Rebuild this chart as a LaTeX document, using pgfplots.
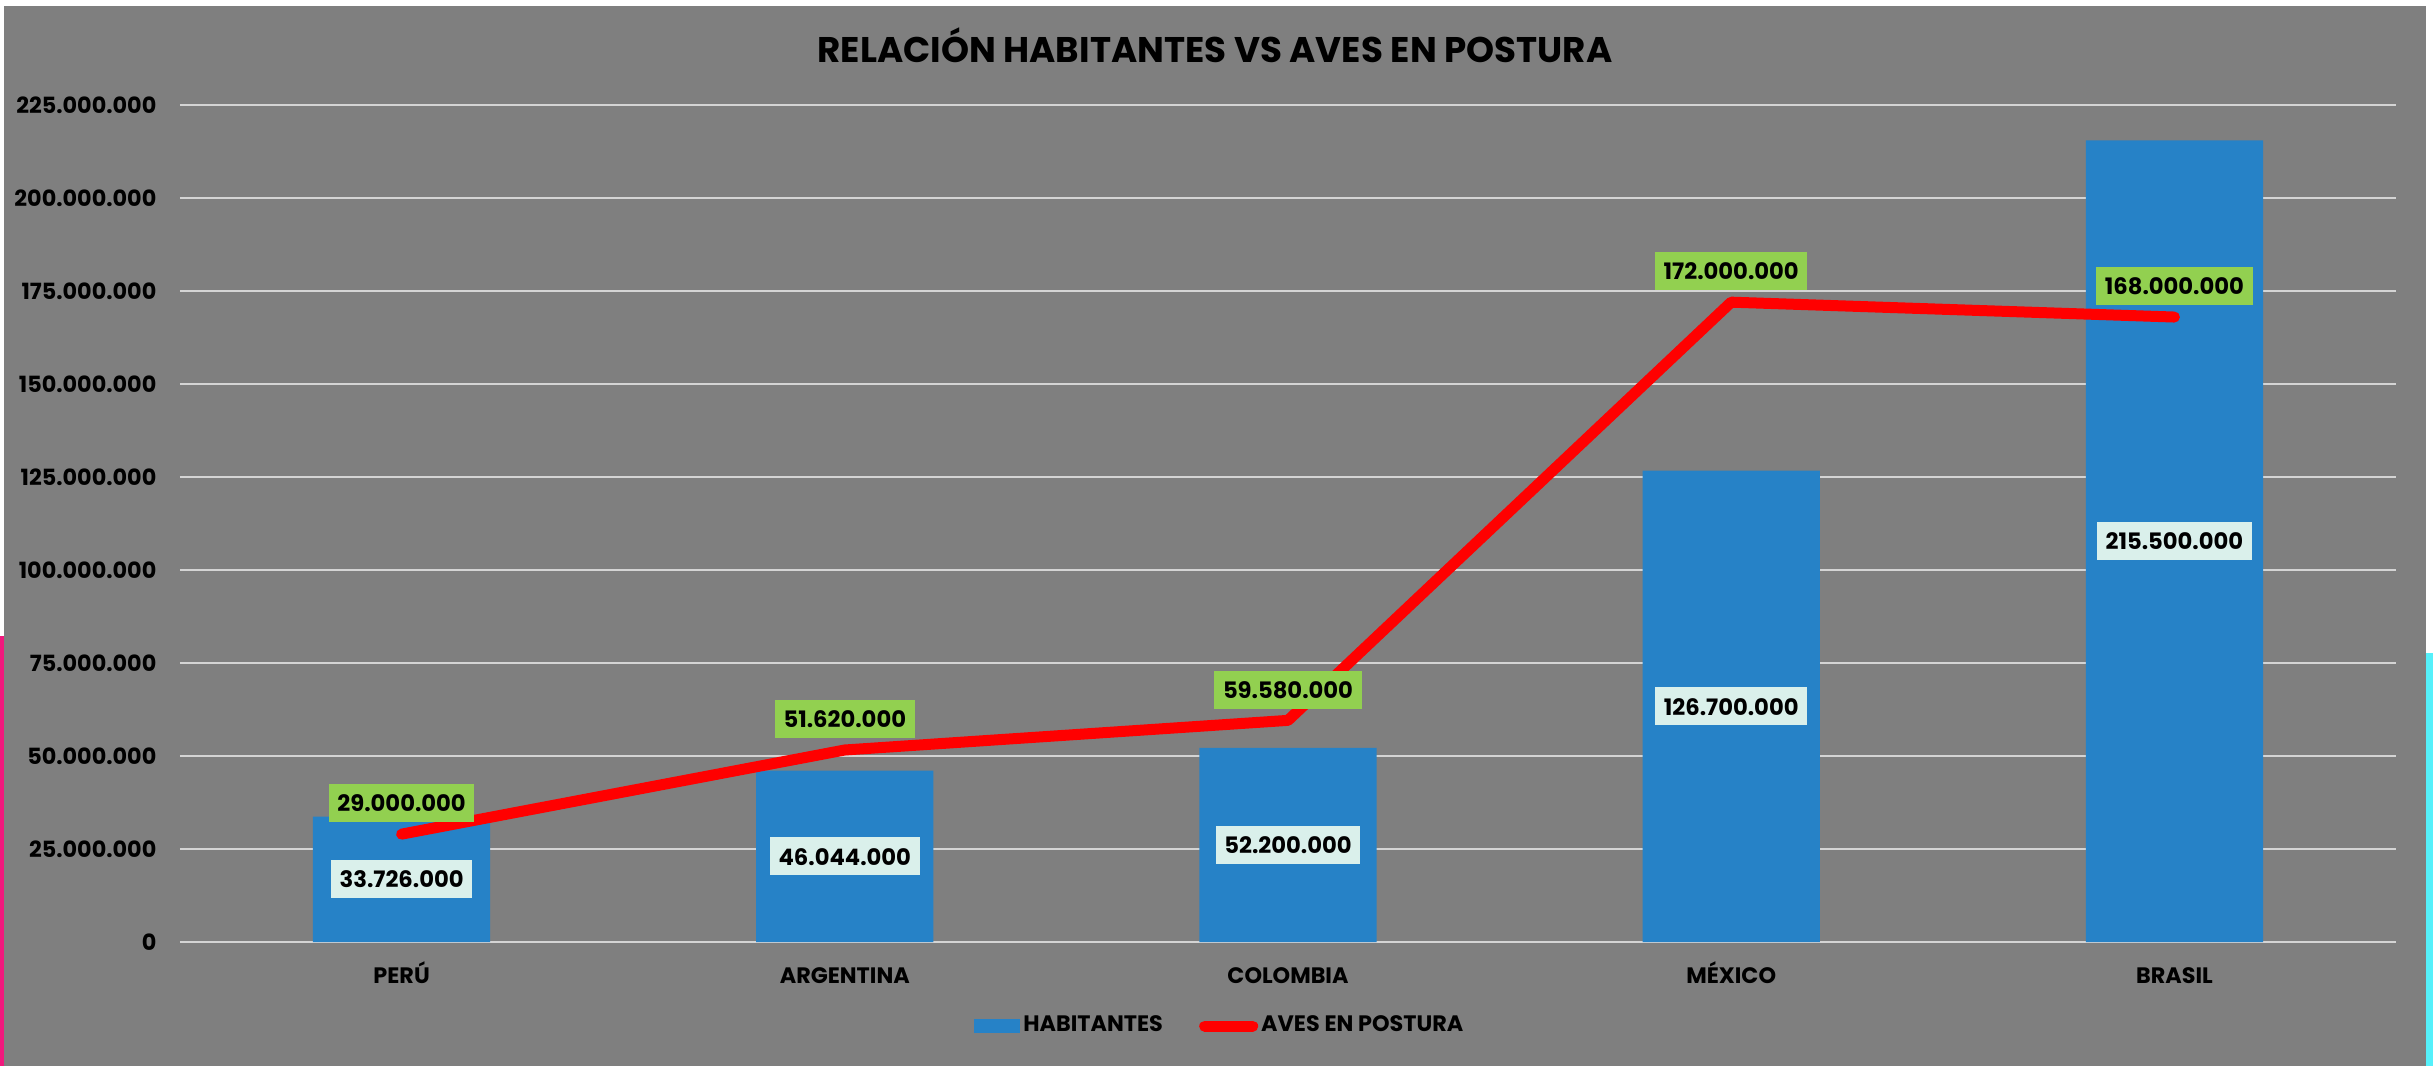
\documentclass[border=0pt]{standalone}
\usepackage{fontspec}
\setmainfont{Poppins}
\usepackage{pgfplots}
\pgfplotsset{compat=1.18}
\definecolor{bggray}{HTML}{7F7F7F}
\definecolor{barblue}{HTML}{2682C7}
\definecolor{labgreen}{HTML}{92D050}
\definecolor{labwhite}{HTML}{DAF0EB}
\definecolor{gridgray}{HTML}{D4D4D4}
\definecolor{pinkedge}{HTML}{F0197D}
\definecolor{cyanedge}{HTML}{55F0FA}
\newcommand{\tickfont}{\bfseries\fontsize{6.7}{8}\selectfont}
\newcommand{\labfont}{\bfseries\fontsize{6.8}{8}\selectfont}
\begin{document}
\begin{tikzpicture}
\useasboundingbox (0,0) rectangle (729.9pt,319.8pt);
\fill[white] (0,0) rectangle (729.9pt,319.8pt);
\fill[pinkedge] (0,0) rectangle (1.5pt,129pt);
\fill[cyanedge] (727pt,0) rectangle (729.9pt,124pt);
\fill[bggray] (1.2pt,0) rectangle (727.8pt,318pt);
\node[anchor=base, inner sep=0pt, font=\bfseries\fontsize{10.7}{13}\selectfont] at (364.5pt,301pt) {RELACIÓN HABITANTES VS AVES EN POSTURA};
\begin{axis}[
  at={(54pt,37.2pt)}, anchor=south west,
  scale only axis, width=664.8pt, height=251.1pt,
  xmin=-0.5, xmax=4.5, ymin=0, ymax=225000000,
  axis line style={draw=none},
  major tick length=0pt,
  xtick={0,1,2,3,4},
  xticklabels={PERÚ,ARGENTINA,COLOMBIA,MÉXICO,BRASIL},
  ytick={0,25000000,50000000,75000000,100000000,125000000,150000000,175000000,200000000,225000000},
  yticklabels={0,25.000.000,50.000.000,75.000.000,100.000.000,125.000.000,150.000.000,175.000.000,200.000.000,225.000.000},
  scaled y ticks=false,
  ymajorgrids, major grid style={draw=gridgray, line width=0.75pt},
  tick label style={font=\tickfont, text=black},
  yticklabel style={anchor=east, inner sep=0pt, xshift=-6.9pt},
  xticklabel style={anchor=base, inner sep=0pt, yshift=-12.3pt},
  legend style={at={(axis description cs:0.4693,-0.1004)}, anchor=center,
    draw=none, fill=none, font=\tickfont, text=black, legend columns=2,
    /tikz/every even column/.append style={column sep=10pt},
    nodes={inner sep=0.9pt}},
  legend cell align=left,
]
\addplot[ybar, bar width=0.4, fill=barblue, draw=none,
  legend image code/.code={\fill[barblue] (0pt,-2.1pt) rectangle (14pt,2.1pt);}]
  coordinates {(0,33726000) (1,46044000) (2,52200000) (3,126700000) (4,215500000)};
\addlegendentry{HABITANTES}
\addplot[draw=none, mark=none, forget plot, point meta=explicit symbolic,
  nodes near coords,
  nodes near coords style={anchor=center, fill=labwhite, text=black, font=\labfont,
    inner xsep=2.6pt, inner ysep=3.1pt, text height=5.2pt, text depth=0pt}]
  coordinates {(0,16863000)[33.726.000] (1,23022000)[46.044.000] (2,26100000)[52.200.000] (3,63350000)[126.700.000] (4,107750000)[215.500.000]};
\addplot[red, line width=3.3pt, line cap=round, line join=round, mark=none,
  point meta=explicit symbolic, nodes near coords,
  nodes near coords style={anchor=south, yshift=1.9pt, fill=labgreen, text=black, font=\labfont,
    inner xsep=2.6pt, inner ysep=3.1pt, text height=5.2pt, text depth=0pt},
  legend image code/.code={\draw[red, line width=3.3pt, line cap=round] (1.6pt,0pt) -- (16pt,0pt);}]
  coordinates {(0,29000000)[29.000.000] (1,51620000)[51.620.000] (2,59580000)[59.580.000] (3,172000000)[172.000.000] (4,168000000)[168.000.000]};
\addlegendentry{AVES EN POSTURA}
\end{axis}
\end{tikzpicture}
\end{document}
